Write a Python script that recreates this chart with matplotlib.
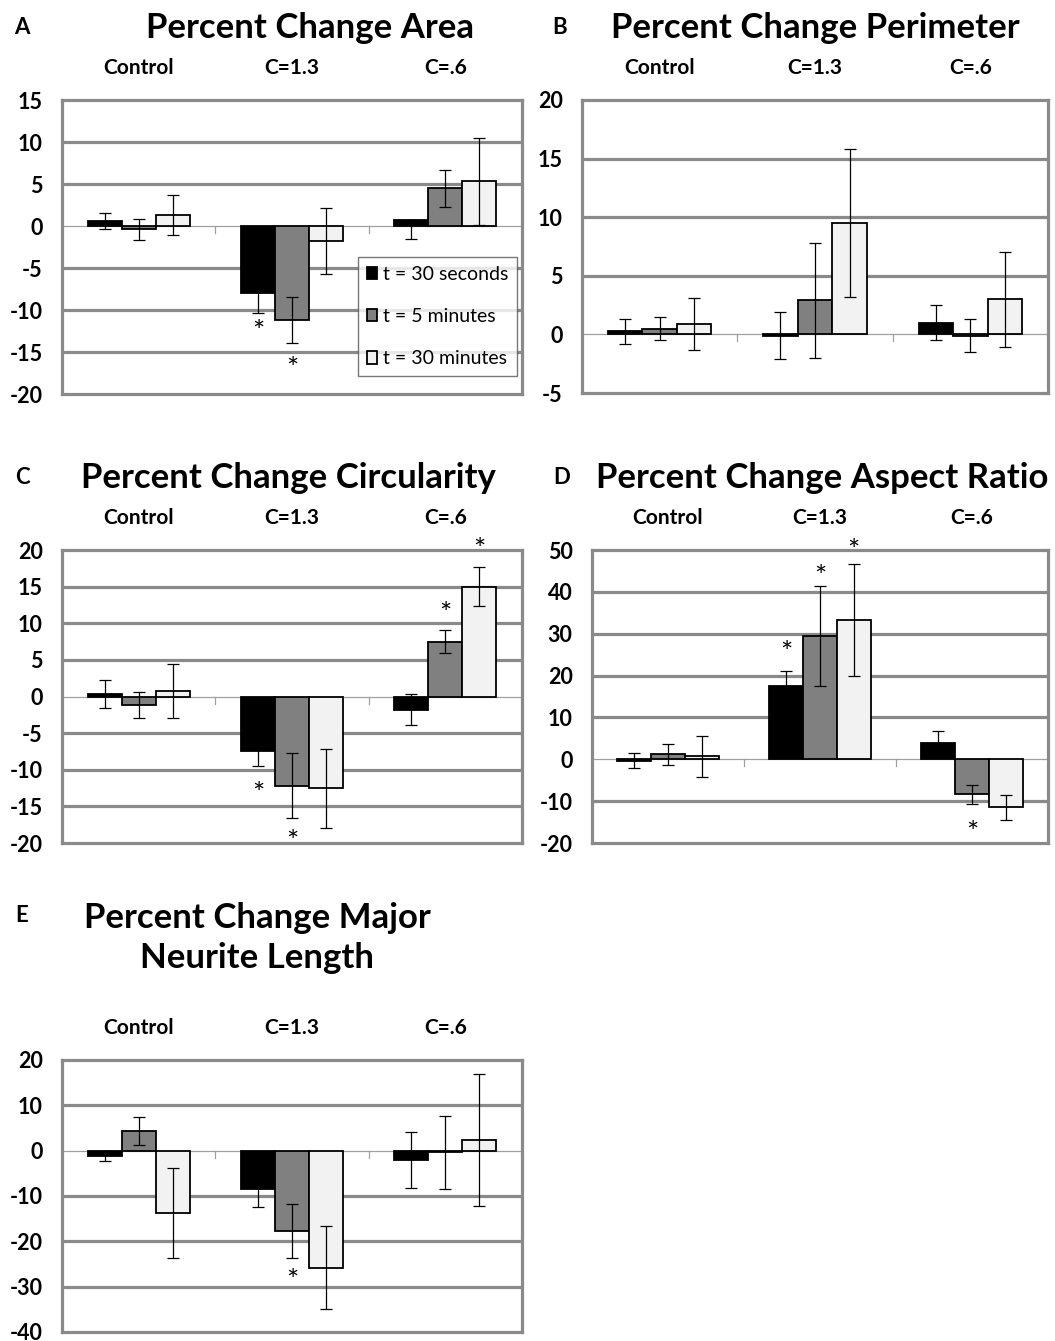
import numpy as np
import matplotlib
matplotlib.use("Agg")
import matplotlib.pyplot as plt
from matplotlib.transforms import offset_copy

plt.rcParams['font.family'] = ['Lato', 'DejaVu Sans']

# categories and series
groups = ["Control", "C=1.3", "C=.6"]
series = ["t = 30 seconds", "t = 5 minutes", "t = 30 minutes"]
colors = ["#000000", "#808080", "#f2f2f2"]

# A: area (rows = series, cols = groups)
area_mean = [[0.6, -8.0, 0.7], [-0.4, -11.2, 4.5], [1.3, -1.8, 5.3]]
area_err_lo = [[0.9, 2.3, 2.3], [1.25, 2.75, 2.2], [2.4, 3.9, 5.2]]
area_err_hi = [[0.9, 2.3, 0.0], [1.25, 2.75, 2.2], [2.4, 3.9, 5.2]]
area_stars = [(1, 0, -12.1), (1, 1, -16.6)]

# B: perimeter
perim_mean = [[0.25, -0.1, 1.0], [0.5, 2.9, -0.1], [0.9, 9.5, 3.0]]
perim_err = [[1.1, 2.0, 1.5], [0.95, 4.9, 1.4], [2.2, 6.3, 4.05]]
perim_stars = []

# C: circularity
circ_mean = [[0.3, -7.4, -1.8], [-1.2, -12.2, 7.5], [0.8, -12.5, 15.0]]
circ_err = [[1.9, 2.1, 2.1], [1.75, 4.45, 1.55], [3.7, 5.4, 2.7]]
circ_stars = [(1, 0, -12.7), (1, 1, -19.3), (2, 1, 11.8), (2, 2, 20.6)]

# D: aspect ratio
aspect_mean = [[-0.3, 17.5, 4.0], [1.2, 29.5, -8.4], [0.7, 33.2, -11.5]]
aspect_err = [[1.7, 3.6, 2.8], [2.5, 12.0, 2.35], [4.9, 13.4, 2.9]]
aspect_stars = [(1, 0, 26.3), (1, 1, 44.6), (1, 2, 50.8), (2, 1, -16.6)]

# E: major neurite length
neur_mean = [[-1.2, -8.5, -2.0], [4.3, -17.7, -0.4], [-13.7, -25.8, 2.4]]
neur_err = [[1.1, 4.0, 6.15], [3.1, 5.9, 8.15], [9.95, 9.1, 14.5]]
neur_stars = [(1, 1, -27.8)]

W, H = 1055, 1341
fig = plt.figure(figsize=(W / 100, H / 100), dpi=100)
frame_gray = "#8a8a8a"


def add_ax(l, t, r, b):
    return fig.add_axes([l / W, 1 - b / H, (r - l) / W, (b - t) / H])


def panel(box, mean, err_lo, err_hi, stars, ylim, step):
    ax = add_ax(*box)
    ymin, ymax = ylim
    ax.set_xlim(-0.5, 2.5)
    ax.set_ylim(ymin, ymax)
    ticks = np.arange(ymin, ymax + 1, step)
    ax.set_yticks(ticks)
    ax.set_yticklabels([str(t) for t in ticks], fontsize=15.5, fontweight='bold')
    ax.tick_params(axis='y', length=0, pad=14)
    ax.set_xticks([])
    for t in ticks:
        if t not in (ymin, ymax, 0):
            ax.axhline(t, color=frame_gray, lw=2.3, zorder=0.5)
    ax.axhline(0, color="#a0a0a0", lw=0.9, zorder=0.6)
    # category tick marks on the zero axis
    hpx = (box[3] - box[1])
    f0 = (0 - ymin) / (ymax - ymin)
    for xb in [0.5, 1.5]:
        ax.axvline(xb, ymin=f0 - 7 / hpx, ymax=f0, color="#a0a0a0", lw=0.9, zorder=0.6)
    for s in ax.spines.values():
        s.set_color(frame_gray)
        s.set_linewidth(2.3)
    bw = 1 / 4.5
    x = np.arange(len(groups))
    for i in range(3):
        ax.bar(x + (i - 1) * bw, mean[i], bw, color=colors[i], edgecolor="black",
               lw=1.3, zorder=2, label=series[i])
        ax.errorbar(x + (i - 1) * bw, mean[i], yerr=[err_lo[i], err_hi[i]], fmt='none',
                    ecolor="black", elinewidth=0.9, capsize=4, capthick=0.9, zorder=3)
    star_tr = offset_copy(ax.transData, fig=fig, y=-5, units='dots')
    for g, s, y in stars:
        ax.text(g + (s - 1) * bw, y, "*", transform=star_tr, ha='center', va='center',
                fontsize=21, zorder=4, clip_on=False)
    for g, name in enumerate(groups):
        ax.text(g, 1 + 32 / hpx, name, transform=ax.get_xaxis_transform(),
                ha='center', va='center', fontsize=15, fontweight='bold')
    return ax


axA = panel((62, 100, 522, 394), area_mean, area_err_lo, area_err_hi, area_stars, (-20, 15), 5)
panel((582, 100, 1048, 393), perim_mean, perim_err, perim_err, perim_stars, (-5, 20), 5)
panel((62, 550, 522, 843), circ_mean, circ_err, circ_err, circ_stars, (-20, 20), 5)
panel((592, 550, 1048, 843), aspect_mean, aspect_err, aspect_err, aspect_stars, (-20, 50), 10)
panel((62, 1060, 522, 1332), neur_mean, neur_err, neur_err, neur_stars, (-40, 20), 10)

leg = axA.legend(loc='upper left', bbox_to_anchor=(358 / W, 1 - 257 / H),
                 bbox_transform=fig.transFigure, fontsize=14, frameon=True,
                 fancybox=False, edgecolor="#555555", handlelength=0.55,
                 handleheight=0.6, handletextpad=0.3, labelspacing=1.3,
                 borderpad=0.45, borderaxespad=0)
leg.get_frame().set_linewidth(1.0)

titles = [("A", 22, 28, "Percent Change Area", 310, 28),
          ("B", 560, 28, "Percent Change Perimeter", 815, 28),
          ("C", 22, 478, "Percent Change Circularity", 288, 478),
          ("D", 562, 478, "Percent Change Aspect Ratio", 822, 478),
          ("E", 22, 915, "Percent Change Major\nNeurite Length", 257, 938)]
for letter, lx, ly, title, tx, ty in titles:
    fig.text(lx / W, 1 - ly / H, letter, ha='center', va='center', fontsize=16,
             fontweight='bold')
    fig.text(tx / W, 1 - ty / H, title, ha='center', va='center', fontsize=25,
             fontweight='bold', linespacing=1.3)

fig.savefig("out.png", dpi=100)
